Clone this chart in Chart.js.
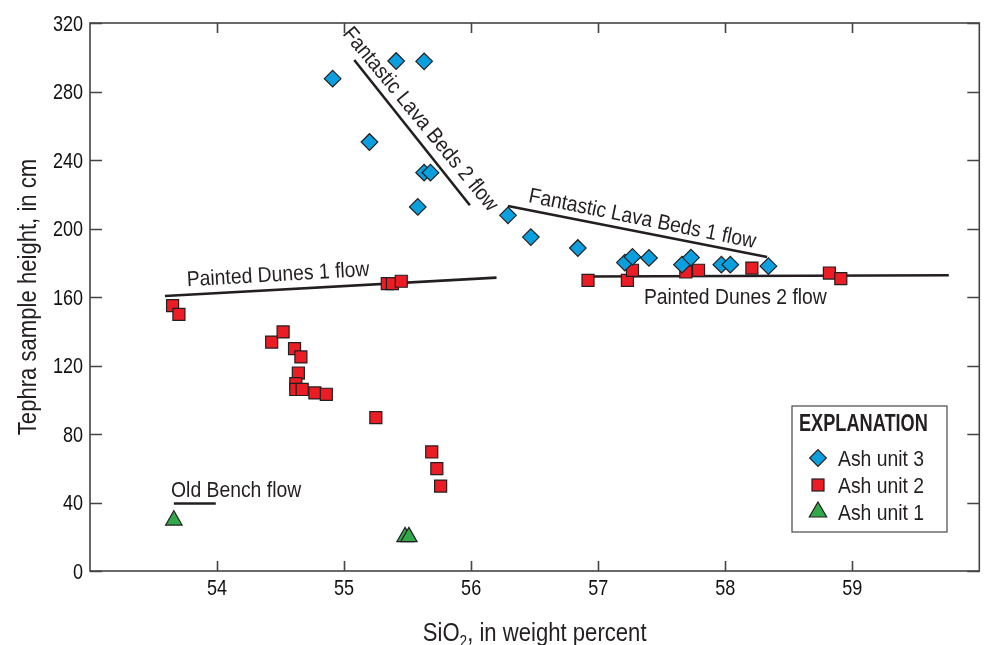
<!DOCTYPE html>
<html>
<head>
<meta charset="utf-8">
<script src="https://cdn.jsdelivr.net/npm/chart.js@4.4.0/dist/chart.umd.min.js"></script>
<style>
  html, body { margin: 0; padding: 0; background: #fff; }
</style>
</head>
<body>
<canvas id="chart" width="990" height="645"></canvas>
<script>
// Ash unit 3 (blue diamonds)
const ash3Si = [54.91, 55.20, 55.41, 55.63, 55.63, 55.68, 55.58, 56.29, 56.47, 56.84, 57.21, 57.27, 57.40, 57.66, 57.73, 57.97, 58.04, 58.34];
const ash3Ht = [287.5, 250.5, 297.8, 297.6, 232.6, 232.6, 212.6, 207.7, 195.0, 188.6, 180.1, 183.4, 182.8, 178.9, 183.0, 178.9, 178.9, 178.0];

// Ash unit 2 (red squares)
const ash2Si = [53.65, 53.70, 54.43, 54.52, 54.61, 54.66, 54.64, 54.62, 54.62, 54.67, 54.77, 54.86, 55.25, 55.69, 55.73, 55.76,
                55.34, 55.38, 55.45, 56.92, 57.23, 57.27, 57.69, 57.79, 58.21, 58.82, 58.91];
const ash2Ht = [155.0, 149.9, 133.7, 139.6, 129.9, 125.0, 115.6, 109.4, 106.0, 106.0, 104.0, 103.2, 89.6, 69.5, 59.8, 49.6,
                167.8, 167.8, 169.2, 169.7, 169.7, 175.6, 174.6, 175.6, 176.9, 174.0, 170.7];

// Ash unit 1 (green triangles)
const ash1Si = [53.66, 55.48, 55.51];
const ash1Ht = [29.6, 19.9, 19.9];

// Flow lines: [SiO2 start, SiO2 end], [height start, height end]
const flowNames = ['Fantastic Lava Beds 2 flow', 'Fantastic Lava Beds 1 flow', 'Painted Dunes 1 flow', 'Painted Dunes 2 flow', 'Old Bench flow'];
const flowSi = [[55.08, 55.99], [56.29, 58.33], [53.59, 56.20], [56.92, 59.76], [53.66, 53.99]];
const flowHt = [[298.4, 213.6], [213.1, 183.4], [160.6, 171.3], [172.0, 172.7], [39.4, 39.4]];
// label anchor (data units) and angle in degrees
const flowLabelSi = [55.61, 57.35, 54.48, 58.08, 54.15];
const flowLabelHt = [264.3, 206.4, 173.8, 160.4, 47.5];
const flowLabelAngle = [50.5, 11.5, -3.3, 0, 0];

// Axis ticks
const xTicks = [54, 55, 56, 57, 58, 59];
const yTicks = [0, 40, 80, 120, 160, 200, 240, 280, 320];

const legendNames = ['Ash unit 3', 'Ash unit 2', 'Ash unit 1'];

const FONT = "'Liberation Sans', Arial, sans-serif";
const INK = '#231f20';
const BLUE = '#0a9fdf';
const RED = '#ec1c24';
const GREEN = '#32a84a';

function toPoints(xs, ys) {
    return xs.map((v, i) => ({ x: v, y: ys[i] }));
}

// condensed-looking text: squeeze horizontally, cy is the cap-height centre
function drawText(ctx, str, x, cy, size, k, align, angle, bold) {
    ctx.save();
    ctx.translate(x, cy);
    if (angle) ctx.rotate(angle);
    ctx.scale(k, 1);
    ctx.font = (bold ? 'bold ' : '') + size + 'px ' + FONT;
    ctx.textAlign = align;
    ctx.textBaseline = 'alphabetic';
    ctx.fillText(str, 0, 0.358 * size);
    ctx.restore();
}

const datasets = [];
flowNames.forEach((name, i) => {
    datasets.push({
        type: 'line',
        label: name,
        data: toPoints(flowSi[i], flowHt[i]),
        borderColor: INK,
        borderWidth: 2.6,
        pointRadius: 0,
        fill: false,
        order: 10
    });
});
datasets.push({
    label: 'Ash unit 3',
    data: toPoints(ash3Si, ash3Ht),
    pointStyle: 'rectRot',
    pointRadius: 8.3,
    backgroundColor: BLUE,
    borderColor: INK,
    borderWidth: 1.2,
    order: 1
});
datasets.push({
    label: 'Ash unit 2',
    data: toPoints(ash2Si, ash2Ht),
    pointStyle: 'rect',
    pointRadius: 8.5,
    backgroundColor: RED,
    borderColor: INK,
    borderWidth: 1.2,
    order: 2
});
datasets.push({
    label: 'Ash unit 1',
    data: toPoints(ash1Si, ash1Ht),
    pointStyle: 'triangle',
    pointRadius: 9.5,
    backgroundColor: GREEN,
    borderColor: INK,
    borderWidth: 1.2,
    order: 3
});

// Frame, inward ticks, labels, axis titles, flow labels, legend box
const decorPlugin = {
    id: 'decor',
    afterDatasetsDraw(chart) {
        const { ctx, scales: { x, y } } = chart;
        ctx.save();
        ctx.fillStyle = INK;
        flowNames.forEach((name, i) => {
            const px = x.getPixelForValue(flowLabelSi[i]);
            const py = y.getPixelForValue(flowLabelHt[i]);
            drawText(ctx, name, px, py, 21.5, 0.9, 'center', flowLabelAngle[i] * Math.PI / 180);
        });
        ctx.restore();
    },
    afterDraw(chart) {
        const { ctx, chartArea: a, scales: { x, y } } = chart;
        ctx.save();

        // plot frame
        ctx.strokeStyle = '#444';
        ctx.lineWidth = 1.6;
        ctx.strokeRect(a.left, a.top, a.right - a.left, a.bottom - a.top);

        // inward ticks on all four sides
        ctx.beginPath();
        xTicks.forEach(v => {
            const px = Math.round(x.getPixelForValue(v)) + 0.5;
            ctx.moveTo(px, a.bottom); ctx.lineTo(px, a.bottom - 10);
            ctx.moveTo(px, a.top); ctx.lineTo(px, a.top + 10);
        });
        yTicks.forEach(v => {
            const py = Math.round(y.getPixelForValue(v)) + 0.5;
            ctx.moveTo(a.left, py); ctx.lineTo(a.left + 12, py);
            ctx.moveTo(a.right, py); ctx.lineTo(a.right - 12, py);
        });
        ctx.stroke();

        // tick labels
        ctx.fillStyle = '#111';
        xTicks.forEach(v => drawText(ctx, String(v), x.getPixelForValue(v), 587, 22, 0.82, 'center'));
        yTicks.forEach(v => drawText(ctx, String(v), 83, y.getPixelForValue(v), 22, 0.82, 'right'));

        // axis titles
        ctx.fillStyle = INK;
        const k = 0.85, big = 26, small = 16;
        ctx.font = big + 'px ' + FONT;
        const w1 = ctx.measureText('SiO').width * k;
        const w3 = ctx.measureText(', in weight percent').width * k;
        ctx.font = small + 'px ' + FONT;
        const w2 = ctx.measureText('2').width * k;
        const tx = (a.left + a.right) / 2 - (w1 + w2 + w3) / 2;
        const ty = 632;
        drawText(ctx, 'SiO', tx, ty, big, k, 'left');
        drawText(ctx, '2', tx + w1, ty + 9, small, k, 'left');
        drawText(ctx, ', in weight percent', tx + w1 + w2, ty, big, k, 'left');

        drawText(ctx, 'Tephra sample height, in cm', 27, (a.top + a.bottom) / 2, 26, 0.85, 'center', -Math.PI / 2);

        // legend box
        const bx = 792, by = 406, bw = 155, bh = 126;
        ctx.fillStyle = '#fff';
        ctx.fillRect(bx, by, bw, bh);
        ctx.strokeStyle = '#555';
        ctx.lineWidth = 1.3;
        ctx.strokeRect(bx, by, bw, bh);
        ctx.fillStyle = INK;
        drawText(ctx, 'EXPLANATION', bx + 7, by + 17, 23, 0.79, 'left', 0, true);

        const rowY = [458, 485, 512];
        const mx = 818;
        ctx.lineWidth = 1.2;
        ctx.strokeStyle = INK;
        // diamond
        ctx.beginPath();
        ctx.moveTo(mx, rowY[0] - 8.3); ctx.lineTo(mx + 8.3, rowY[0]);
        ctx.lineTo(mx, rowY[0] + 8.3); ctx.lineTo(mx - 8.3, rowY[0]);
        ctx.closePath();
        ctx.fillStyle = BLUE; ctx.fill(); ctx.stroke();
        // square
        ctx.fillStyle = RED;
        ctx.fillRect(mx - 6, rowY[1] - 6, 12, 12);
        ctx.strokeRect(mx - 6, rowY[1] - 6, 12, 12);
        // triangle
        ctx.beginPath();
        ctx.moveTo(mx, rowY[2] - 10); ctx.lineTo(mx + 8.7, rowY[2] + 5);
        ctx.lineTo(mx - 8.7, rowY[2] + 5);
        ctx.closePath();
        ctx.fillStyle = GREEN; ctx.fill(); ctx.stroke();

        ctx.fillStyle = INK;
        legendNames.forEach((n, i) => drawText(ctx, n, 838, rowY[i], 22, 0.88, 'left'));

        ctx.restore();
    }
};

new Chart(document.getElementById('chart'), {
    type: 'scatter',
    data: { datasets: datasets },
    options: {
        responsive: false,
        animation: false,
        devicePixelRatio: 1,
        layout: { padding: { top: 23, right: 9, left: 0, bottom: 0 } },
        plugins: {
            legend: { display: false },
            tooltip: { enabled: false }
        },
        scales: {
            x: {
                type: 'linear',
                min: 53,
                max: 60,
                afterFit: s => { s.height = 74; },
                grid: { display: false, drawTicks: false },
                border: { display: false },
                ticks: { stepSize: 1, display: false }
            },
            y: {
                min: 0,
                max: 320,
                afterFit: s => { s.width = 90; },
                grid: { display: false, drawTicks: false },
                border: { display: false },
                ticks: { stepSize: 40, display: false }
            }
        }
    },
    plugins: [decorPlugin]
});
</script>
</body>
</html>
